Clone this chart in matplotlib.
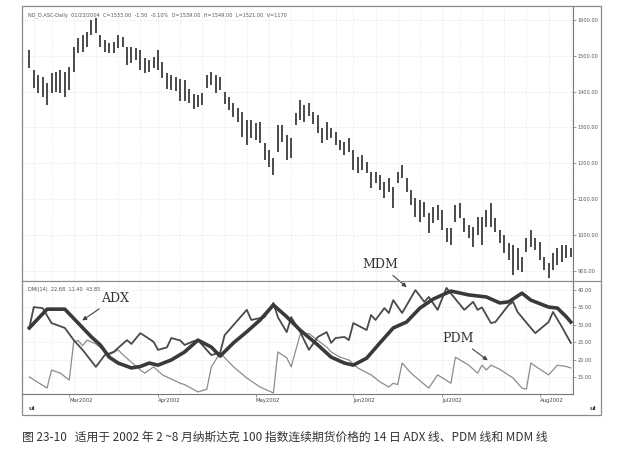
import numpy as np
import pandas as pd
import matplotlib
matplotlib.use("Agg")
import matplotlib.pyplot as plt
from matplotlib.patches import Rectangle

# trading days, 15 Feb 2002 .. 12 Aug 2002 (US holidays removed)
days = pd.bdate_range("2002-02-15", "2002-08-12")
days = days[~days.isin(pd.to_datetime(["2002-02-18", "2002-03-29", "2002-05-27", "2002-07-04"]))]

highs = [1515, 1460, 1446, 1440, 1424, 1451, 1454, 1460, 1454, 1468,
         1524, 1549, 1557, 1565, 1599, 1604, 1557, 1543, 1535, 1538,
         1557, 1551, 1524, 1524, 1521, 1515, 1493, 1488, 1496, 1515,
         1482, 1451, 1446, 1440, 1435, 1432, 1407, 1393, 1390, 1396,
         1446, 1454, 1446, 1440, 1399, 1385, 1368, 1354, 1343, 1321,
         1321, 1313, 1315, 1257, 1238, 1215, 1307, 1307, 1279, 1271,
         1340, 1376, 1363, 1368, 1343, 1335, 1299, 1315, 1299, 1288,
         1265, 1260, 1271, 1238, 1218, 1224, 1204, 1176, 1176, 1168,
         1149, 1160, 1135, 1176, 1196, 1160, 1126, 1104, 1099, 1093,
         1063, 1079, 1085, 1071, 1021, 1021, 1085, 1090, 1049, 1029,
         1024, 1051, 1051, 1071, 1090, 1049, 1015, 1001, 979, 974,
         965, 940, 993, 1015, 993, 982, 940, 924, 951, 965,
         974, 974, 965]
lows = [1465, 1410, 1396, 1385, 1363, 1396, 1399, 1396, 1385, 1404,
        1454, 1507, 1510, 1524, 1557, 1563, 1524, 1510, 1507, 1507,
        1521, 1524, 1474, 1479, 1488, 1460, 1451, 1454, 1465, 1460,
        1438, 1407, 1404, 1401, 1374, 1374, 1368, 1351, 1357, 1363,
        1410, 1418, 1396, 1404, 1365, 1349, 1329, 1315, 1274, 1251,
        1271, 1265, 1257, 1210, 1190, 1168, 1232, 1260, 1210, 1215,
        1307, 1321, 1315, 1332, 1310, 1285, 1257, 1265, 1271, 1251,
        1238, 1224, 1232, 1182, 1174, 1182, 1174, 1132, 1146, 1126,
        1104, 1121, 1076, 1146, 1160, 1121, 1085, 1051, 1038, 1051,
        1007, 1035, 1043, 1015, 982, 974, 1038, 1049, 1010, 993,
        968, 1001, 974, 1024, 1024, 1010, 979, 951, 932, 890,
        904, 899, 954, 968, 960, 932, 904, 882, 904, 918,
        926, 938, 940]

# DMI(14) lines: (bar number, value)
adx_bar = [0, 4, 8, 11, 14, 16, 18, 20, 23, 25, 27, 29, 32, 35, 38, 41, 43, 46, 49, 52, 55, 58,
           61, 65, 68, 71, 73, 76, 79, 82, 85, 88, 91, 95, 99, 103, 106, 108, 111, 113, 117, 119, 121, 122]
adx_val = [29.1, 34.5, 34.5, 30.5, 26.5, 24.2, 20.7, 19.0, 17.6, 18.0, 19.0, 18.4, 19.9, 22.2, 25.6,
           23.6, 21.0, 24.8, 28.0, 31.4, 35.7, 32.3, 28.5, 24.2, 20.7, 19.0, 18.4, 20.4, 24.8, 29.1,
           30.8, 34.8, 37.4, 39.7, 38.6, 38.0, 36.3, 36.6, 39.1, 37.1, 35.1, 34.8, 32.3, 30.8]

mdm_bar = [0, 1, 3, 5, 8, 10, 12, 15, 17, 19, 22, 23, 25, 26, 28, 29, 31, 32, 34, 35, 37, 38, 41,
           43, 44, 47, 49, 50, 53, 55, 56, 58, 59, 61, 63, 65, 67, 68, 69, 71, 72, 73, 76, 77, 78,
           80, 81, 82, 84, 87, 89, 90, 92, 94, 95, 98, 100, 101, 102, 104, 105, 108, 109, 110,
           113, 114, 117, 118, 120, 122]
mdm_val = [29.1, 35.1, 34.8, 30.5, 29.1, 25.6, 22.8, 17.9, 21.3, 22.2, 25.6, 24.5, 27.6, 26.8,
           25.1, 22.8, 23.5, 26.2, 25.5, 24.2, 25.3, 25.6, 21.3, 22.0, 27.0, 31.4, 34.3, 31.4,
           32.2, 36.3, 32.2, 27.9, 32.2, 28.0, 22.8, 26.5, 27.9, 24.8, 26.2, 26.5, 25.6, 30.5,
           28.5, 32.8, 31.4, 34.8, 33.4, 37.1, 33.4, 40.0, 36.6, 38.0, 34.3, 40.6, 39.0, 34.3,
           36.6, 34.3, 35.0, 30.5, 30.8, 35.7, 36.6, 33.7, 29.1, 27.6, 30.8, 33.7, 29.4, 24.8]

pdm_bar = [0, 4, 5, 7, 9, 10, 11, 12, 13, 15, 18, 20, 21, 25, 26, 28, 30, 34, 35, 38, 40, 41, 43,
           46, 49, 52, 55, 56, 58, 59, 61, 63, 65, 67, 68, 70, 72, 74, 77, 79, 81, 82, 83, 84, 86,
           90, 92, 95, 96, 99, 101, 102, 103, 104, 106, 109, 111, 112, 113, 116, 117, 119, 121, 122]
pdm_val = [15.0, 11.8, 17.0, 16.1, 14.1, 25.1, 25.5, 24.0, 25.6, 24.5, 21.3, 22.8, 21.5, 17.0,
           16.1, 17.9, 15.6, 13.2, 12.8, 10.7, 11.5, 17.9, 21.9, 17.9, 14.7, 12.1, 10.4, 22.2,
           20.5, 17.9, 27.1, 27.5, 25.5, 23.6, 22.2, 20.7, 19.9, 17.6, 15.6, 13.6, 12.1, 13.2,
           12.8, 19.0, 16.1, 11.8, 15.6, 13.2, 20.7, 18.4, 16.1, 18.4, 17.0, 18.4, 17.2, 14.7,
           11.8, 11.5, 19.0, 16.4, 15.6, 18.4, 18.0, 17.6]

price_ticks = [900, 1000, 1100, 1200, 1300, 1400, 1500, 1600]
dmi_ticks = [15, 20, 25, 30, 35, 40]

header = ("ND_D.ASC-Daily  01/23/2004  C=1533.00  -1.50  -0.10%  O=1539.00  "
          "H=1549.00  L=1521.00  V=1170")
dmi_header = "DMI(14)  22.68  11.40  43.85"
caption = "图 23-10   适用于 2002 年 2 ~8 月纳斯达克 100 指数连续期货价格的 14 日 ADX 线、PDM 线和 MDM 线"

W, H = 628, 457
fig = plt.figure(figsize=(W / 100, H / 100), dpi=100)


def box(x0, y0, x1, y1):
    # pixel box (top-left origin) -> figure fraction rect
    return [x0 / W, 1 - y1 / H, (x1 - x0) / W, (y1 - y0) / H]


ax1 = fig.add_axes(box(22, 7, 573, 281))
ax2 = fig.add_axes(box(22, 281, 573, 394), sharex=ax1)

x = np.arange(len(highs))
ax1.vlines(x, lows, highs, color="#3c3c3c", lw=1.3)
ax1.set_ylim(873, 1635)
ax1.set_xlim(-1.65, 122.5)

ax2.plot(pdm_bar, pdm_val, color="#8c8c8c", lw=0.9)
ax2.plot(mdm_bar, mdm_val, color="#4a4a4a", lw=1.3)
ax2.plot(adx_bar, adx_val, color="#3a3a3a", lw=2.6, solid_joinstyle="round")
ax2.set_ylim(10.1, 42.6)

# weekly grid and month labels
grid_kw = dict(color="#dedede", lw=0.5, ls=(0, (1.5, 2)))
week_start = [i for i in range(1, len(days)) if days[i].weekday() < days[i - 1].weekday()]
month_start = [i for i in range(1, len(days)) if days[i].month != days[i - 1].month]
for ax in (ax1, ax2):
    for i in week_start:
        ax.axvline(i, zorder=0, **grid_kw)
    ax.yaxis.tick_right()
    for s in ("left", "top"):
        ax.spines[s].set_visible(False)
    for s in ("right", "bottom"):
        ax.spines[s].set_color("#777777")
        ax.spines[s].set_linewidth(0.8)
    ax.tick_params(axis="y", length=2.5, width=0.5, colors="#777777", labelsize=3.6,
                   labelcolor="#555555", pad=1)

ax1.set_yticks(price_ticks)
ax1.set_yticklabels(["%.2f" % t for t in price_ticks])
ax1.grid(axis="y", **grid_kw)
ax1.tick_params(axis="x", bottom=False, labelbottom=False)

ax2.set_yticks(dmi_ticks)
ax2.set_yticklabels(["%.2f" % t for t in dmi_ticks])
ax2.grid(axis="y", **grid_kw)
ax2.set_xticks(month_start)
ax2.set_xticklabels([days[i].strftime("%b%Y") for i in month_start], ha="left")
ax2.tick_params(axis="x", length=2, width=0.5, colors="#777777", labelsize=3.8,
                labelcolor="#444444", pad=1)

# outer frame and divider
fig.patches.append(Rectangle((22 / W, 1 - 415 / H), 579 / W, 409 / H, transform=fig.transFigure,
                             fill=False, ec="#8a8a8a", lw=0.9))
fig.add_artist(plt.Line2D([22 / W, 601 / W], [1 - 281 / H] * 2, color="#8a8a8a", lw=0.8))

fig.text(28 / W, 1 - 15 / H, header, fontsize=3.6, color="#555555", va="center")
ax2.text(0.01, 0.95, dmi_header, transform=ax2.transAxes, fontsize=3.6, color="#555555", va="top")
fig.text(29 / W, 1 - 408 / H, "ul", fontsize=4.5, color="#444444", weight="bold", va="center")
fig.text(590 / W, 1 - 408 / H, "ul", fontsize=4.5, color="#444444", weight="bold", va="center")

arrow = dict(arrowstyle="-|>", color="#444444", lw=0.8, mutation_scale=6)
ax2.annotate("ADX", xy=(11.4, 30.8), xytext=(19.3, 37.7), ha="center", va="center",
             fontsize=9, family="DejaVu Serif", color="#333333", arrowprops=arrow)
ax2.annotate("MDM", xy=(85.5, 40.3), xytext=(79.0, 47.4), ha="center", va="center",
             fontsize=9, family="DejaVu Serif", color="#333333", arrowprops=arrow,
             annotation_clip=False)
ax2.annotate("PDM", xy=(103.8, 19.3), xytext=(96.5, 26.2), ha="center", va="center",
             fontsize=9, family="DejaVu Serif", color="#333333", arrowprops=arrow)

fig.text(22 / W, 1 - 437 / H, caption, fontsize=8.5, color="#333333", va="center",
         family=["Noto Sans CJK SC", "DejaVu Sans"])

fig.savefig("out.png", dpi=100)
